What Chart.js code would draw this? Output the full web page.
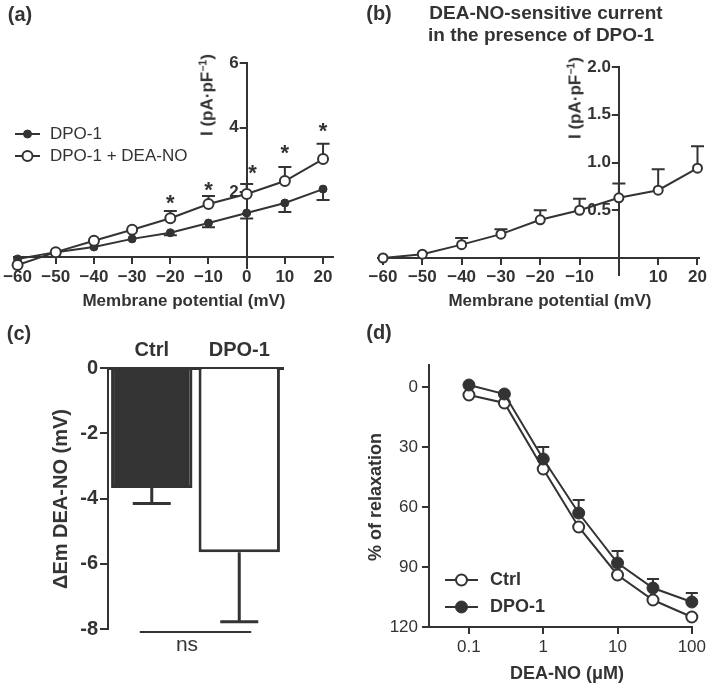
<!DOCTYPE html>
<html><head><meta charset="utf-8">
<script src="https://cdn.jsdelivr.net/npm/chart.js@4/dist/chart.umd.min.js"></script>
<style>
html,body{margin:0;padding:0;background:#fff;}
#wrap{position:relative;width:709px;height:686px;overflow:hidden;background:#fff;font-family:"Liberation Sans",Arial,sans-serif;color:#333;}
#wrap canvas{position:absolute;left:0;top:0;width:709px;height:686px;}
.t{position:absolute;white-space:nowrap;transform:translate(-50%,-50%);line-height:1;font-weight:bold;}
.v{transform:translate(-50%,-50%) rotate(-90deg);}
sup{font-size:0.62em;vertical-align:0.55em;line-height:0;}
</style></head>
<body><div id="wrap">
<canvas id="ca" width="709" height="686"></canvas>
<canvas id="cb" width="709" height="686"></canvas>
<canvas id="cc" width="709" height="686"></canvas>
<canvas id="cd" width="709" height="686"></canvas>

<div class="t" style="left:20px;top:14px;font-size:20px">(a)</div>
<div class="t" style="left:379px;top:13px;font-size:20px">(b)</div>
<div class="t" style="left:19px;top:333px;font-size:20px">(c)</div>
<div class="t" style="left:379px;top:332px;font-size:20px">(d)</div>

<div class="t" style="left:546px;top:12px;font-size:19px">DEA-NO-sensitive current</div>
<div class="t" style="left:541px;top:34px;font-size:19px">in the presence of DPO-1</div>

<div class="t" style="left:184px;top:300px;font-size:17px">Membrane potential (mV)</div>
<div class="t" style="left:550px;top:300px;font-size:17px">Membrane potential (mV)</div>
<div class="t v" style="left:207px;top:95px;font-size:17px">I (pA·pF<sup>−1</sup>)</div>
<div class="t v" style="left:575px;top:98px;font-size:17px">I (pA·pF<sup>−1</sup>)</div>

<div class="t v" style="left:60px;top:499px;font-size:20px">ΔEm DEA-NO (mV)</div>
<div class="t" style="left:187px;top:643px;font-size:21px;font-weight:normal">ns</div>

<div class="t v" style="left:375px;top:497px;font-size:18px">% of relaxation</div>
<div class="t" style="left:567px;top:673px;font-size:18px">DEA-NO (μM)</div>
</div>
<script>
// ---------- data ----------
const voltages = [-60, -50, -40, -30, -20, -10, 0, 10, 20];
const voltageLabels = ['−60', '−50', '−40', '−30', '−20', '−10', '0', '10', '20'];
const voltageLabelsB = ['−60', '−50', '−40', '−30', '−20', '−10', '', '10', '20'];

// (a) I-V curves
const aDpo = [-0.06, 0.15, 0.31, 0.56, 0.75, 1.05, 1.36, 1.67, 2.10];
const aDpoErr = [0, 0, 0, 0, 0.08, 0.13, 0.17, 0.28, 0.34];
const aDpoDea = [-0.25, 0.15, 0.50, 0.84, 1.20, 1.64, 1.95, 2.35, 3.03];
const aDpoDeaErr = [0, 0, 0, 0, 0.22, 0.25, 0.31, 0.43, 0.47];
const aStarX = [-20, -10, 1.5, 10, 20];
const aStarY = [1.86, 2.26, 2.79, 3.40, 4.09];
const aYTicks = [2, 4, 6];
const aYTickLabels = ['2', '4', '6'];

// (b) DEA-NO-sensitive current
const bVals = [0, 0.04, 0.14, 0.25, 0.40, 0.50, 0.63, 0.71, 0.94];
const bErr = [0, 0, 0.07, 0.05, 0.10, 0.12, 0.15, 0.22, 0.23];
const bYTicks = [0.5, 1.0, 1.5, 2.0];
const bYTickLabels = ['0.5', '1.0', '1.5', '2.0'];

// (c) bars
const cCats = ['Ctrl', 'DPO-1'];
const cVals = [-3.68, -5.65];
const cErr = [0.47, 2.13];
const cYTicks = [0, -2, -4, -6, -8];
const cYTickLabels = ['0', '-2', '-4', '-6', '-8'];

// (d) concentration-response
const conc = [0.1, 0.3, 1, 3, 10, 30, 100];
const dCtrl = [4, 8, 41, 70, 94, 106.5, 115];
const dDpo = [-1, 3.5, 36, 63, 88, 100.5, 107.5];
const dDpoErr = [0, 0, 6, 6.5, 6, 4.5, 4.5];
const dXTicks = [0.1, 1, 10, 100];
const dXTickLabels = ['0.1', '1', '10', '100'];
const dYTicks = [0, 30, 60, 90, 120];
const dYTickLabels = ['0', '30', '60', '90', '120'];

// ---------- helpers ----------
const INK = '#333';
const FAM = "'Liberation Sans', Arial, sans-serif";
Chart.defaults.font.family = FAM;
Chart.defaults.color = INK;
Chart.defaults.animation = false;

const W = 709, H = 686;
function pad(l, t, r, b) { return {left: l, top: t, right: W - r, bottom: H - b}; }

// place the zero-size axes: crossing at 0 (panels a, b) or on the chart-area edges
function placeAxes(mode) {
  return {
    id: 'placeAxes',
    afterLayout(chart) {
      const xs = chart.scales.x, ys = chart.scales.y, a = chart.chartArea;
      const px = mode.cross ? xs.getPixelForValue(0) : a.left;
      const py = mode.cross ? ys.getPixelForValue(0) : (mode.xTop ? a.top : a.bottom);
      ys.right = px; ys.left = px - 100; ys.width = 100;
      if (mode.xTop) { xs.bottom = py; xs.top = py - 60; }
      else { xs.top = py; xs.bottom = py + 60; }
      xs.height = 60;
    }
  };
}

function errPlugin(sets) {
  return {
    id: 'errBars',
    beforeDatasetsDraw(chart) {
      const ctx = chart.ctx, ys = chart.scales.y;
      ctx.save();
      ctx.strokeStyle = INK;
      sets.forEach(s => {
        const ds = chart.data.datasets[s.ds];
        const meta = chart.getDatasetMeta(s.ds);
        ctx.lineWidth = s.width;
        s.err.forEach((e, i) => {
          if (!e) return;
          const v = ds.data[i];
          const yv = (typeof v === 'object') ? v.y : v;
          const px = meta.data[i].x;
          const y0 = ys.getPixelForValue(yv), y1 = ys.getPixelForValue(yv + s.dir * e);
          ctx.beginPath();
          ctx.moveTo(px, y0); ctx.lineTo(px, y1);
          ctx.moveTo(px - s.cap / 2, y1); ctx.lineTo(px + s.cap / 2, y1);
          ctx.stroke();
        });
      });
      ctx.restore();
    }
  };
}

function starPlugin(xs, yv, size) {
  return {
    id: 'stars',
    afterDatasetsDraw(chart) {
      const ctx = chart.ctx, sx = chart.scales.x, sy = chart.scales.y;
      ctx.save();
      ctx.fillStyle = INK;
      ctx.font = 'bold ' + size + 'px ' + FAM;
      ctx.textAlign = 'center';
      ctx.textBaseline = 'alphabetic';
      xs.forEach((x, i) => {
        ctx.fillText('*', sx.getPixelForValue(x), sy.getPixelForValue(yv[i]) + 0.58 * size);
      });
      ctx.restore();
    }
  };
}

function legendPlugin(cfg) {
  return {
    id: 'miniLegend',
    afterDatasetsDraw(chart) {
      const ctx = chart.ctx;
      ctx.save();
      cfg.items.forEach((dsIndex, k) => {
        const ds = chart.data.datasets[dsIndex];
        const y = cfg.y + k * cfg.gap;
        ctx.strokeStyle = INK;
        ctx.lineWidth = 2;
        ctx.beginPath(); ctx.moveTo(cfg.x0, y); ctx.lineTo(cfg.x1, y); ctx.stroke();
        ctx.beginPath();
        ctx.arc((cfg.x0 + cfg.x1) / 2, y, ds.pointRadius, 0, Math.PI * 2);
        ctx.fillStyle = ds.pointBackgroundColor; ctx.fill();
        ctx.lineWidth = ds.pointBorderWidth; ctx.stroke();
        ctx.fillStyle = INK;
        ctx.font = cfg.font;
        ctx.textAlign = 'left'; ctx.textBaseline = 'middle';
        ctx.fillText(ds.label, cfg.tx, y);
      });
      ctx.restore();
    }
  };
}

function nsPlugin() {
  return {
    id: 'nsLine',
    afterDatasetsDraw(chart) {
      const ctx = chart.ctx, sx = chart.scales.x, sy = chart.scales.y;
      const y = sy.getPixelForValue(-8) + 3;
      ctx.save();
      ctx.strokeStyle = INK; ctx.lineWidth = 2;
      ctx.beginPath();
      ctx.moveTo(sx.getPixelForValue(0) - 12, y);
      ctx.lineTo(sx.getPixelForValue(1) + 12, y);
      ctx.stroke();
      ctx.restore();
    }
  };
}

function gridStyle(len) {
  return {display: true, drawOnChartArea: false, drawTicks: true, tickLength: len, lineWidth: 2, tickWidth: 2, color: INK, tickColor: INK};
}
const borderStyle = {display: true, width: 2, color: INK};

function linAxis(pos, min, max, values, labels, font, padding, extra) {
  return Object.assign({
    type: 'linear', position: pos, min, max,
    grid: gridStyle(7), border: borderStyle,
    afterBuildTicks: s => { s.ticks = values.map(v => ({value: v})); },
    afterFit: s => { if (pos === 'left') s.width = 0; else s.height = 0; },
    ticks: {callback: (v, i) => labels[i], font, padding, maxRotation: 0, minRotation: 0, autoSkip: false, color: INK}
  }, extra || {});
}

function lineDs(label, xs, ys, open, r) {
  return {
    label,
    data: xs.map((x, i) => ({x, y: ys[i]})),
    borderColor: INK, borderWidth: 2,
    pointRadius: r, pointHoverRadius: r,
    pointBorderWidth: open ? 2 : 1,
    pointBackgroundColor: open ? '#fff' : INK,
    pointBorderColor: INK,
    clip: false, fill: false, tension: 0
  };
}
const noPlugins = {legend: {display: false}, tooltip: {enabled: false}, title: {display: false}};
const boldTick = {size: 17, weight: 'bold'};

// ---------- (a) ----------
new Chart(document.getElementById('ca'), {
  type: 'line',
  data: {datasets: [
    lineDs('DPO-1 + DEA-NO', voltages, aDpoDea, true, 5),
    lineDs('DPO-1', voltages, aDpo, false, 4)
  ]},
  options: {
    responsive: false, events: [],
    layout: {autoPadding: false, padding: pad(13.2, 63, 332.6, 268.3)},
    plugins: noPlugins,
    scales: {
      x: linAxis('bottom', -61, 22.5, voltages, voltageLabels, boldTick, 3),
      y: linAxis('left', -0.35, 6, aYTicks, aYTickLabels, boldTick, 1)
    }
  },
  plugins: [
    placeAxes({cross: true}),
    errPlugin([{ds: 0, err: aDpoDeaErr, dir: 1, cap: 13, width: 2}, {ds: 1, err: aDpoErr, dir: -1, cap: 13, width: 2}]),
    starPlugin(aStarX, aStarY, 22),
    legendPlugin({items: [1, 0], x0: 15, x1: 40, y: 134, gap: 22, tx: 50, font: '17px ' + FAM})
  ]
});

// ---------- (b) ----------
new Chart(document.getElementById('cb'), {
  type: 'line',
  data: {datasets: [lineDs('DEA-NO-sensitive current', voltages, bVals, true, 4.5)]},
  options: {
    responsive: false, events: [],
    layout: {autoPadding: false, padding: pad(377.9, 67, 700, 275.2)},
    plugins: noPlugins,
    scales: {
      x: linAxis('bottom', -61.3, 20.5, voltages, voltageLabelsB, boldTick, 2),
      y: linAxis('left', -0.18, 2.0, bYTicks, bYTickLabels, boldTick, 1)
    }
  },
  plugins: [placeAxes({cross: true}), errPlugin([{ds: 0, err: bErr, dir: 1, cap: 13, width: 2}])]
});

// ---------- (c) ----------
new Chart(document.getElementById('cc'), {
  type: 'bar',
  data: {labels: cCats, datasets: [{
    label: 'ΔEm DEA-NO', data: cVals,
    backgroundColor: [INK, '#fff'], borderColor: INK, borderWidth: 3, borderSkipped: 'start',
    barPercentage: 1, categoryPercentage: 0.93
  }]},
  options: {
    responsive: false, events: [],
    layout: {autoPadding: false, padding: pad(108, 368, 283, 629)},
    plugins: noPlugins,
    scales: {
      x: {
        type: 'category', position: 'top', offset: true,
        grid: {display: false, drawTicks: false, drawOnChartArea: false},
        border: {display: true, width: 3, color: INK},
        afterFit: s => { s.height = 0; },
        ticks: {font: {size: 20, weight: 'bold'}, padding: 6, maxRotation: 0, minRotation: 0, color: INK}
      },
      y: linAxis('left', -8, 0, cYTicks, cYTickLabels, {size: 20, weight: 'bold'}, 2, {grid: gridStyle(8)})
    }
  },
  plugins: [placeAxes({cross: false, xTop: true}), errPlugin([{ds: 0, err: cErr, dir: -1, cap: 38, width: 3}]), nsPlugin()]
});

// ---------- (d) ----------
new Chart(document.getElementById('cd'), {
  type: 'line',
  data: {datasets: [
    lineDs('DPO-1', conc, dDpo, false, 6),
    lineDs('Ctrl', conc, dCtrl, true, 5.5)
  ]},
  options: {
    responsive: false, events: [],
    layout: {autoPadding: false, padding: pad(429, 365, 692, 627)},
    plugins: noPlugins,
    scales: {
      x: linAxis('bottom', 0.029, 100, dXTicks, dXTickLabels, {size: 17}, 3, {type: 'logarithmic'}),
      y: linAxis('left', -11, 120, dYTicks, dYTickLabels, {size: 17}, 4, {reverse: true})
    }
  },
  plugins: [
    placeAxes({cross: false}),
    errPlugin([{ds: 0, err: dDpoErr, dir: -1, cap: 12, width: 2}]),
    legendPlugin({items: [1, 0], x0: 445, x1: 478, y: 580, gap: 27, tx: 490, font: 'bold 18px ' + FAM})
  ]
});
</script>
</body></html>
